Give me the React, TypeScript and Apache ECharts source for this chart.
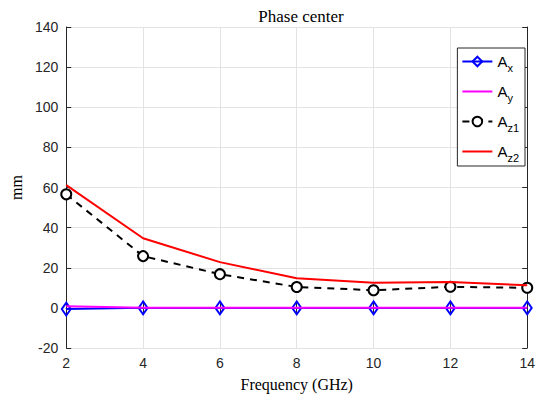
import React, { useEffect, useRef } from "react";
import * as echarts from "echarts";

const freqs = [2, 4, 6, 8, 10, 12, 14];
const ax = [-0.6, 0, 0, 0, 0, 0, 0];
const ay = [0.8, 0.1, 0.1, 0.1, 0.1, 0.1, 0.1];
const az1 = [56.6, 25.8, 16.8, 10.4, 8.8, 10.5, 10];
const az2 = [61.2, 34.7, 22.8, 14.8, 12.5, 12.9, 11.3];

const pairs = (ys: number[]) => freqs.map((f, i) => [f, ys[i]]);

export default function App() {
  const ref = useRef<HTMLDivElement>(null);
  useEffect(() => {
    const chart = echarts.init(ref.current!, null, { renderer: "svg" });
    const serif = "'Liberation Serif', 'DejaVu Serif', serif";
    const sans = "'Liberation Sans', Arial, sans-serif";
    const axisCommon = {
      axisLine: { show: true, lineStyle: { color: "#262626", width: 1 } },
      axisTick: { show: true, inside: true, length: 5, lineStyle: { color: "#262626" } },
    };
    chart.setOption({
      animation: false,
      backgroundColor: "#fff",
      title: {
        text: "Phase center",
        left: 296,
        textAlign: "center",
        top: 3,
        textStyle: { fontFamily: serif, fontSize: 17, fontWeight: "normal", color: "#000" },
      },
      grid: { left: 62, right: 8, top: 27, bottom: 53, show: false },
      legend: {
        orient: "vertical",
        right: 13,
        top: 48,
        width: 65,
        itemWidth: 30,
        itemHeight: 12,
        itemGap: 11,
        padding: [6, 6, 3, 4],
        borderColor: "#262626",
        borderWidth: 1,
        backgroundColor: "#fff",
        textStyle: {
          fontFamily: sans,
          fontSize: 15,
          color: "#000",
          rich: {
            a: { fontFamily: sans, fontSize: 15, color: "#000" },
            s: { fontFamily: sans, fontSize: 11, color: "#000", padding: [12, 0, 0, 0] },
          },
        },
        formatter: (name: string) => `{a|A}{s|${name.slice(1)}}`,
        data: [
          { name: "Ax" },
          { name: "Ay", itemStyle: { opacity: 0 } },
          { name: "Az1" },
          { name: "Az2", itemStyle: { opacity: 0 } },
        ],
      },
      xAxis: [
        {
          type: "value",
          min: 2,
          max: 14,
          interval: 2,
          ...axisCommon,
          splitLine: { show: true, lineStyle: { color: "#e3e3e3" } },
          axisLabel: { fontFamily: sans, fontSize: 14, color: "#262626", margin: 8 },
          name: "Frequency (GHz)",
          nameLocation: "middle",
          nameGap: 28,
          nameTextStyle: { fontFamily: serif, fontSize: 16, color: "#000" },
        },
        {
          type: "value",
          position: "top",
          min: 2,
          max: 14,
          interval: 2,
          ...axisCommon,
          splitLine: { show: false },
          axisLabel: { show: false },
        },
      ],
      yAxis: [
        {
          type: "value",
          min: -20,
          max: 140,
          interval: 20,
          ...axisCommon,
          splitLine: { show: true, lineStyle: { color: "#e3e3e3" } },
          axisLabel: { fontFamily: sans, fontSize: 14, color: "#262626", margin: 8 },
          name: "mm",
          nameLocation: "middle",
          nameGap: 42,
          nameTextStyle: { fontFamily: serif, fontSize: 16, color: "#000" },
        },
        {
          type: "value",
          position: "right",
          min: -20,
          max: 140,
          interval: 20,
          ...axisCommon,
          splitLine: { show: false },
          axisLabel: { show: false },
        },
      ],
      series: [
        {
          name: "Ax",
          type: "line",
          data: pairs(ax),
          symbol: "diamond",
          symbolSize: [9, 13],
          lineStyle: { color: "#0000ff", width: 2 },
          itemStyle: { color: "none", borderColor: "#0000ff", borderWidth: 2 },
          z: 2,
        },
        {
          name: "Ay",
          type: "line",
          data: pairs(ay),
          symbol: "none",
          lineStyle: { color: "#ff00ff", width: 2 },
          itemStyle: { color: "#ff00ff" },
          z: 3,
        },
        {
          name: "Az1",
          type: "line",
          data: pairs(az1),
          symbol: "circle",
          symbolSize: 10,
          lineStyle: { color: "#000", width: 2, type: [7, 6] },
          itemStyle: { color: "#fff", borderColor: "#000", borderWidth: 2 },
          z: 4,
        },
        {
          name: "Az2",
          type: "line",
          data: pairs(az2),
          symbol: "none",
          lineStyle: { color: "#ff0000", width: 2 },
          itemStyle: { color: "#ff0000" },
          z: 5,
        },
      ],
    });
    return () => chart.dispose();
  }, []);
  return <div ref={ref} style={{ width: 538, height: 401, position: "absolute", left: 0, top: 0 }} />;
}
